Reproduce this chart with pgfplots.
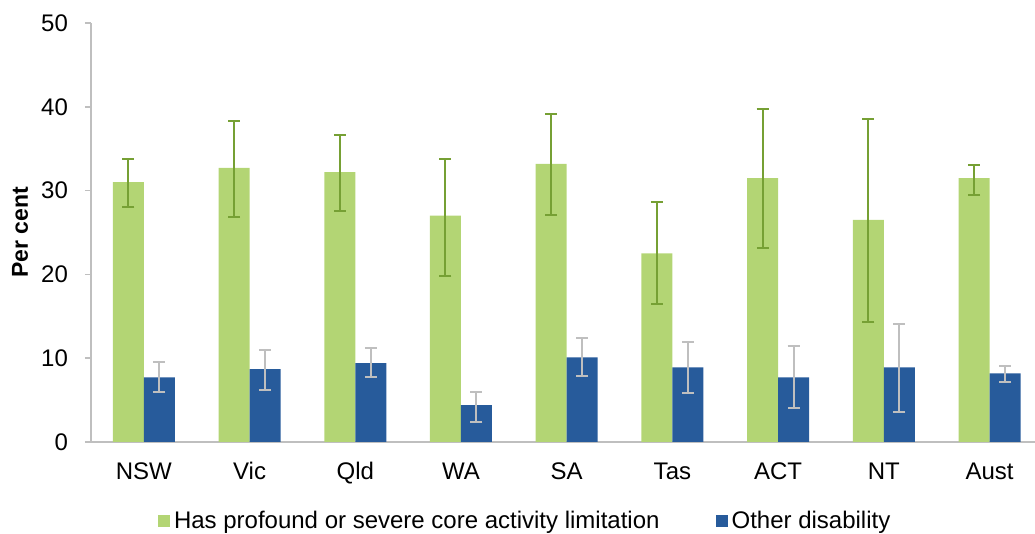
\documentclass[border=0pt]{standalone}
\usepackage{pgfplots}
\pgfplotsset{compat=1.18}
\usepackage{fontspec}
\setmainfont{Liberation Sans}
\definecolor{barG}{HTML}{B3D574}
\definecolor{barB}{HTML}{275B9B}
\definecolor{errG}{HTML}{76A034}
\definecolor{errB}{HTML}{BFBFBF}
\definecolor{axisgrey}{HTML}{BFBFBF}
\begin{document}
\begin{tikzpicture}
\useasboundingbox (0,0) rectangle (517.5pt,267pt);
\begin{axis}[
  at={(45.5pt,46pt)}, anchor=south west,
  scale only axis, width=472pt, height=209.5pt,
  xmin=-0.5, xmax=8.43, ymin=0, ymax=50,
  ybar=0pt, bar width=15.5pt,
  xtick={0,1,2,3,4,5,6,7,8},
  xticklabels={NSW,Vic,Qld,WA,SA,Tas,ACT,NT,Aust},
  ytick={0,10,20,30,40,50},
  axis x line*=bottom, axis y line*=left,
  axis line style={axisgrey, line width=0.8pt},
  x axis line style={-}, y axis line style={-},
  major x tick style={draw=none},
  major y tick style={axisgrey, line width=0.8pt},
  tick align=outside, major tick length=3pt,
  tick label style={font=\fontsize{12}{14}\selectfont, text=black},
  /pgf/number format/assume math mode=true,
  xticklabel style={text height=9pt, text depth=2.5pt, anchor=north, yshift=-3pt},
  yticklabel style={xshift=-5pt},
  ylabel={Per cent},
  ylabel style={at={(axis description cs:-0.0752,0.5)}, anchor=center, font=\fontsize{11.5}{13}\selectfont\bfseries},
  legend style={at={(axis description cs:0.461,-0.1885)}, anchor=center, draw=none, fill=none,
    font=\fontsize{12}{14}\selectfont, legend columns=2,
    /tikz/every even column/.append style={column sep=26pt}},
  legend image code/.code={\fill[#1, draw=none] (0pt,-3pt) rectangle (6pt,3pt);},
  legend cell align=left,
]
\addplot+[fill=barG, draw=none, error bars/.cd, y dir=both, y explicit,
  error bar style={errG, line width=1pt},
  error mark options={errG, rotate=90, mark size=3pt, line width=1pt}]
coordinates {
 (0,31.0) += (0,2.8) -= (0,2.9)
 (1,32.7) += (0,5.6) -= (0,5.8)
 (2,32.2) += (0,4.4) -= (0,4.6)
 (3,27.0) += (0,6.8) -= (0,7.2)
 (4,33.2) += (0,5.9) -= (0,6.1)
 (5,22.5) += (0,6.1) -= (0,6.0)
 (6,31.5) += (0,8.2) -= (0,8.4)
 (7,26.5) += (0,12.0) -= (0,12.2)
 (8,31.5) += (0,1.6) -= (0,2.0)
};
\addlegendentry{Has profound or severe core activity limitation}
\addplot+[fill=barB, draw=none, error bars/.cd, y dir=both, y explicit,
  error bar style={errB, line width=1pt},
  error mark options={errB, rotate=90, mark size=3pt, line width=1pt}]
coordinates {
 (0,7.7) += (0,1.85) -= (0,1.75)
 (1,8.7) += (0,2.3) -= (0,2.5)
 (2,9.4) += (0,1.8) -= (0,1.7)
 (3,4.4) += (0,1.6) -= (0,2.0)
 (4,10.1) += (0,2.3) -= (0,2.2)
 (5,8.9) += (0,3.0) -= (0,3.1)
 (6,7.7) += (0,3.75) -= (0,3.6)
 (7,8.9) += (0,5.2) -= (0,5.3)
 (8,8.2) += (0,0.87) -= (0,1.04)
};
\addlegendentry{Other disability}
\end{axis}
\end{tikzpicture}
\end{document}
